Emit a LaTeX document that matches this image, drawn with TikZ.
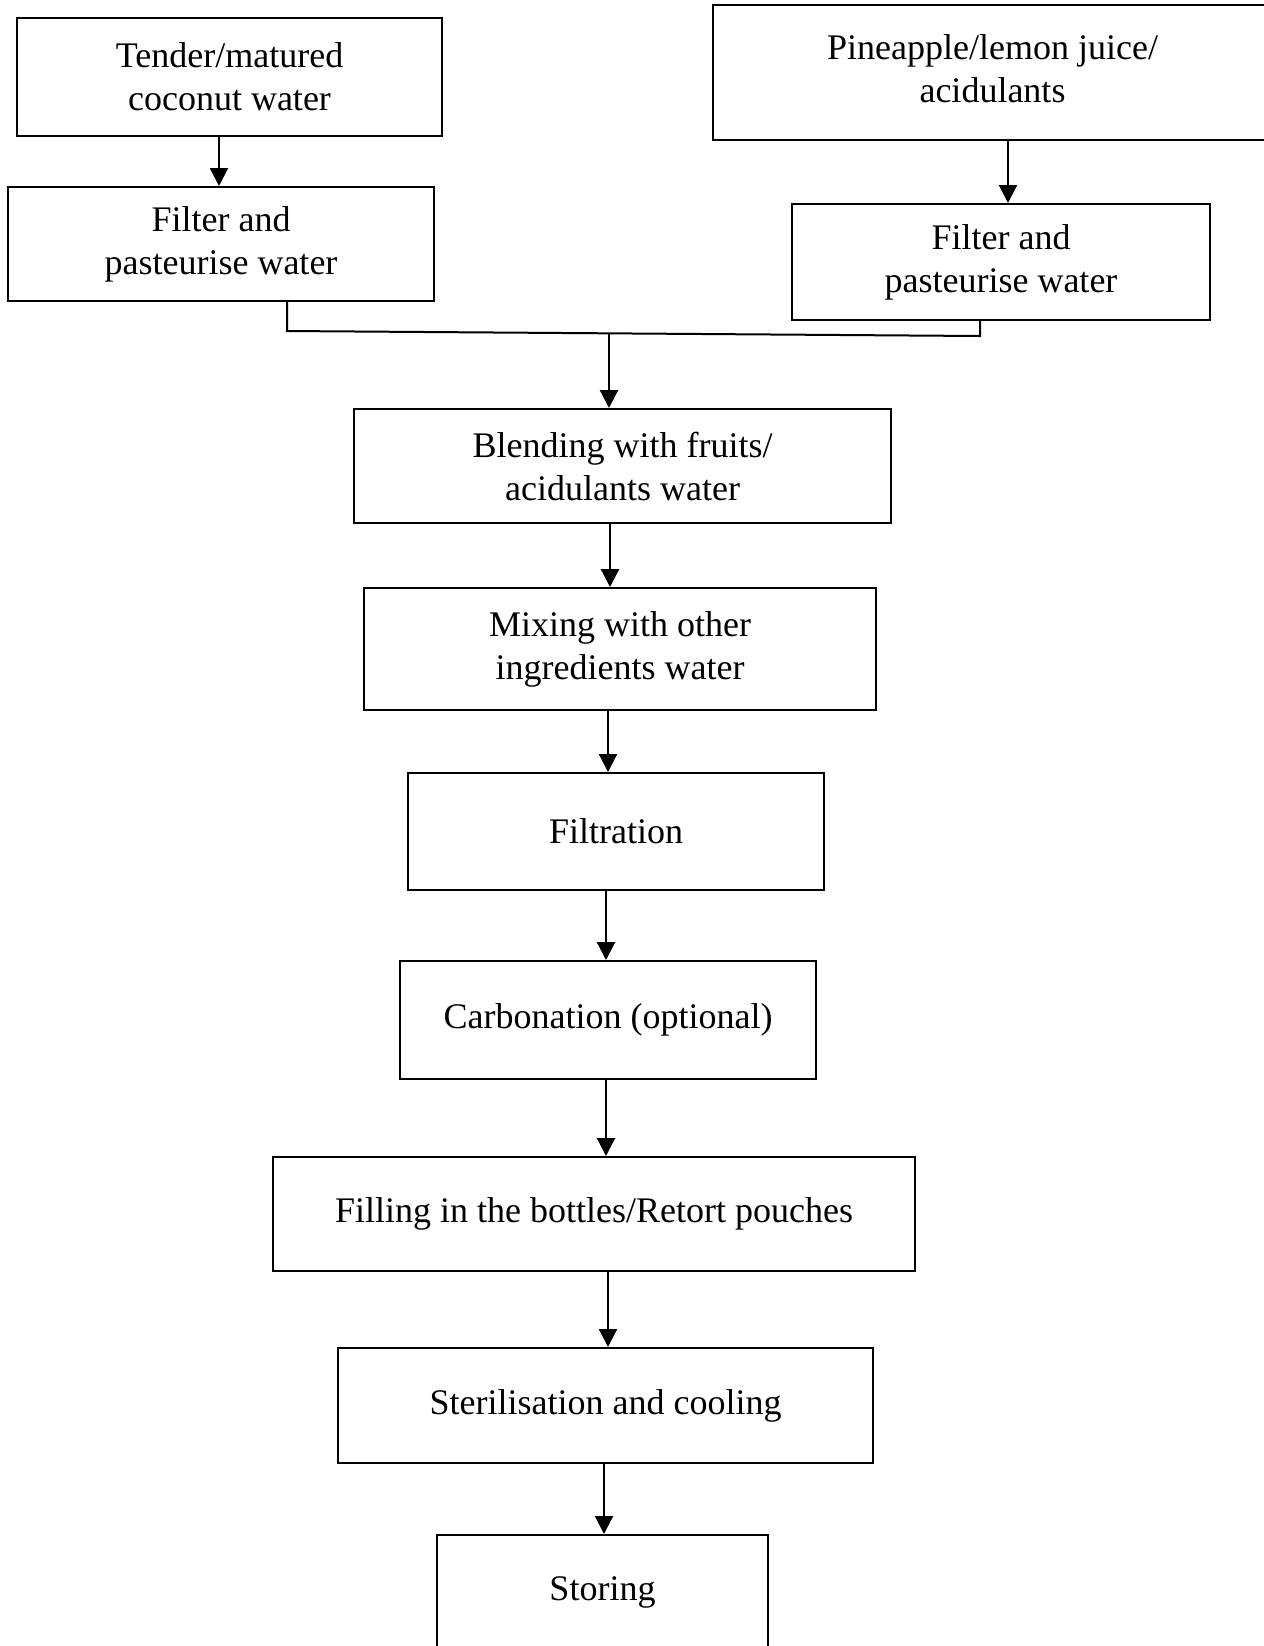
\documentclass[tikz,border=0pt]{standalone}
\usepackage{fontspec}
\setmainfont{Liberation Serif}
\usetikzlibrary{arrows.meta}
\tikzset{
  box/.style={draw, line width=1pt, rectangle, inner sep=0pt, align=center,
    font=\fontsize{18}{21.5}\selectfont},
  arr/.style={line width=1.1pt, -{Triangle[width=9pt,length=9pt]}},
  ln/.style={line width=1pt}
}
% \bx{name}{x1}{y1}{x2}{y2}{text}  (pixel coordinates, y downward)
\newcommand{\bx}[6]{%
  \pgfmathsetmacro{\bw}{(#4-#2)*0.5}%
  \pgfmathsetmacro{\bh}{(#5-#3)*0.5}%
  \node[box, minimum width=\bw pt, minimum height=\bh pt] (#1) at ({(#2+#4)/2},{(#3+#5)/2}) {#6};}
\begin{document}
\begin{tikzpicture}[x=0.5pt,y=-0.5pt]
\useasboundingbox (0,0) rectangle (1264,1646);
\bx{coco}{17}{18}{442}{136}{Tender/matured\\coconut water}
\bx{pine}{713}{5}{1272}{140}{\raisebox{4pt}{\begin{tabular}{@{}c@{}}Pineapple/lemon juice/\\acidulants\end{tabular}}}
\bx{filtl}{8}{187}{434}{301}{Filter and\\pasteurise water}
\bx{filtr}{792}{204}{1210}{320}{Filter and\\pasteurise water}
\bx{blend}{354}{409}{891}{523}{Blending with fruits/\\acidulants water}
\bx{mix}{364}{588}{876}{710}{Mixing with other\\ingredients water}
\bx{filtn}{408}{773}{824}{890}{Filtration}
\bx{carb}{400}{961}{816}{1079}{Carbonation (optional)}
\bx{fill}{273}{1157}{915}{1271}{Filling in the bottles/Retort pouches}
\bx{ster}{338}{1348}{873}{1463}{Sterilisation and cooling}
\bx{stor}{437}{1535}{768}{1650}{Storing}
% arrows from sources to filter boxes
\draw[arr] (coco.south -| 219,0) -- (filtl.north -| 219,0);
\draw[arr] (pine.south -| 1008,0) -- (filtr.north -| 1008,0);
% join
\coordinate (jl) at (287,331);
\coordinate (jr) at (980,336);
\coordinate (jm) at (609,333);
\draw[ln] (filtl.south -| jl) -- (jl) -- (jr) -- (filtr.south -| jr);
\draw[arr] (jm) -- (blend.north -| jm);
% main chain
\draw[arr] (blend.south -| 610,0) -- (mix.north -| 610,0);
\draw[arr] (mix.south -| 608,0) -- (filtn.north -| 608,0);
\draw[arr] (filtn.south -| 606,0) -- (carb.north -| 606,0);
\draw[arr] (carb.south -| 606,0) -- (fill.north -| 606,0);
\draw[arr] (fill.south -| 608,0) -- (ster.north -| 608,0);
\draw[arr] (ster.south -| 604,0) -- (stor.north -| 604,0);
\end{tikzpicture}
\end{document}
